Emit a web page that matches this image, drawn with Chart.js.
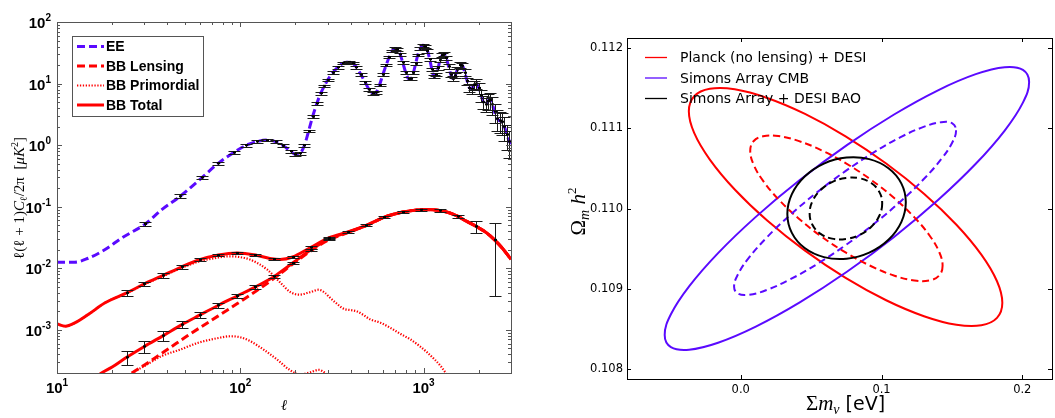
<!DOCTYPE html>
<html lang="en">
<head>
<meta charset="UTF-8" />
<title>CMB polarization spectra and neutrino mass constraints</title>
<script src="https://cdn.jsdelivr.net/npm/chart.js@4.4.1/dist/chart.umd.min.js"></script>
<style>
  html, body { margin: 0; padding: 0; background: #fff; }
  body { width: 1055px; height: 418px; position: relative; overflow: hidden; }
  #leftBox { position: absolute; left: 0; top: 0; width: 530px; height: 418px; }
  #rightBox { position: absolute; left: 530px; top: 0; width: 525px; height: 418px; }
  canvas { display: block; }
</style>
</head>
<body>
<div id="leftBox"><canvas id="spectra"></canvas></div>
<div id="rightBox"><canvas id="contours"></canvas></div>

<script>
// ---------- left panel : l(l+1)C_l/2pi vs multipole ----------
const eeEll = [10, 12.5, 14.8, 18.3, 22.5, 30.3, 37.3, 47, 62, 76, 92, 108, 124, 140, 156, 172, 188, 200, 212, 224,
  236, 248, 262, 275, 288, 300, 320, 340, 365, 390, 410, 430, 455, 480, 505, 530, 550, 575, 600, 625, 650, 675, 700,
  720, 745, 770, 800, 830, 855, 880, 905, 930, 960, 990, 1020, 1050, 1080, 1110, 1140, 1170, 1200, 1230, 1265, 1300,
  1330, 1370, 1410, 1450, 1490, 1530, 1580, 1630, 1680, 1730, 1780, 1830, 1880, 1940, 2000, 2060, 2120, 2180, 2240,
  2300, 2370, 2440, 2520, 2600, 2680, 2760, 2850, 2940, 3000];
const eeVal = [0.0126, 0.0126, 0.0146, 0.0202, 0.031, 0.0526, 0.0897, 0.148, 0.30, 0.51, 0.76, 1.0, 1.15, 1.21, 1.14,
  0.98, 0.80, 0.71, 0.74, 1.0, 1.7, 2.9, 4.8, 7.0, 9.2, 11.5, 15, 18.5, 21.5, 22.5, 21.5, 18.5, 14, 10.5, 8.0, 7.0,
  7.2, 9.5, 14, 20, 27, 34, 37, 36, 30, 22, 15, 12, 12, 15, 21, 29, 37, 42, 40, 34, 25, 17, 13, 14, 18, 24, 29, 30,
  26, 19, 14, 12, 13.5, 17, 20, 19.5, 15, 11, 8.5, 8.2, 9.5, 10, 8.5, 6.5, 5, 4.6, 5.2, 5.4, 4.6, 3.5, 2.7, 2.5, 2.4,
  2.0, 1.5, 1.15, 1.05];
// percent error of the EE band powers (null = no band power plotted)
const eeErrPct = [null, null, null, null, null, 8, null, 7, 6, 6, 6, 5, 5, 5, 5, 5, 5, 5, 5, 5, 5, 5, 5, 5, 5, 5, 5,
  5, 5, 5, 5, 5, 5, 5, 5, 5, 5, 5, 5, 5, 5, 5, 5, 5, 5, 5, 5, 5, 5, 5, 5, 5, 5, 5, 6, 6, 6, 6, 6, 6, 7, 7, 7, 7, 8,
  8, 9, 9, 10, 10, 11, 12, 13, 14, 15, 16, 17, 18, 20, 22, 24, 26, 28, 30, 32, 34, 36, 38, 40, 42, 44, 46, null];

const bbTotHiEll = [10, 11.1, 12.5, 14.8, 18.3, 24, 30, 38, 48, 60, 76, 96, 121, 145, 165, 193, 243, 306, 386, 486,
  612, 771, 920, 1026, 1223, 1380, 1540, 1700, 1940, 2200, 2440, 2700, 3000];
const bbTotHiVal = [1.25e-3, 1.15e-3, 1.3e-3, 1.78e-3, 2.76e-3, 4.0e-3, 5.6e-3, 7.7e-3, 1.06e-2, 1.38e-2, 1.65e-2,
  1.78e-2, 1.65e-2, 1.45e-2, 1.39e-2, 1.53e-2, 2.2e-2, 3.15e-2, 3.9e-2, 5.0e-2, 6.8e-2, 8.2e-2, 8.9e-2, 9.0e-2,
  8.7e-2, 8.0e-2, 7.0e-2, 5.9e-2, 4.8e-2, 3.8e-2, 2.9e-2, 2.1e-2, 1.4e-2];

const bbTotLoEll = [15, 17.5, 20, 24, 30, 38, 48, 60, 76, 96, 121, 153, 193, 243, 306, 386, 486, 612, 771, 920, 1026,
  1223, 1380, 1540, 1700, 1940, 2200, 2440, 2700, 3000];
const bbTotLoVal = [1.4e-4, 2.0e-4, 2.5e-4, 3.6e-4, 5.4e-4, 8.1e-4, 1.22e-3, 1.74e-3, 2.52e-3, 3.55e-3, 5.0e-3,
  7.4e-3, 1.22e-2, 2.0e-2, 3.0e-2, 3.85e-2, 4.95e-2, 6.8e-2, 8.2e-2, 8.9e-2, 9.0e-2, 8.7e-2, 8.0e-2, 7.0e-2, 5.9e-2,
  4.8e-2, 3.8e-2, 2.9e-2, 2.1e-2, 1.4e-2];

const bbLensEll = [25.6, 30, 40, 52, 70, 90, 121, 153, 193, 243, 306, 386, 486, 612, 771, 920, 1026, 1223, 1380, 1540,
  1700, 1940, 2200, 2440, 2700, 3000];
const bbLensVal = [2.0e-4, 2.7e-4, 4.8e-4, 8.2e-4, 1.45e-3, 2.35e-3, 4.2e-3, 6.9e-3, 1.17e-2, 1.93e-2, 2.93e-2,
  3.8e-2, 4.93e-2, 6.78e-2, 8.2e-2, 8.9e-2, 9.0e-2, 8.7e-2, 8.0e-2, 7.0e-2, 5.9e-2, 4.8e-2, 3.8e-2, 2.9e-2, 2.1e-2,
  1.4e-2];

const bbPrimHiEll = [10, 11.1, 12.5, 14.8, 18.3, 24, 30, 38, 48, 60, 76, 88, 100, 113, 140, 166, 188, 210, 240, 268,
  290, 310, 340, 367, 400, 434, 470, 513, 582, 660, 750, 849, 950, 1048, 1150, 1239, 1340, 1450];
const bbPrimHiVal = [1.25e-3, 1.15e-3, 1.3e-3, 1.78e-3, 2.76e-3, 3.95e-3, 5.5e-3, 7.5e-3, 1.02e-2, 1.3e-2, 1.5e-2,
  1.57e-2, 1.52e-2, 1.39e-2, 9.6e-3, 5.8e-3, 4.1e-3, 3.75e-3, 4.1e-3, 4.5e-3, 4.0e-3, 3.3e-3, 2.6e-3, 2.2e-3,
  2.1e-3, 2.0e-3, 1.75e-3, 1.48e-3, 1.31e-3, 1.08e-3, 8.6e-4, 7.0e-4, 5.5e-4, 4.3e-4, 3.3e-4, 2.6e-4, 1.9e-4, 1.4e-4];

const bbPrimLoEll = [25.6, 30, 37.3, 47, 59, 76, 88, 100, 113, 134, 159, 184, 210, 240, 268, 290, 310, 340];
const bbPrimLoVal = [2.0e-4, 2.6e-4, 3.77e-4, 4.8e-4, 6.2e-4, 7.4e-4, 7.9e-4, 7.6e-4, 6.6e-4, 4.8e-4, 3.3e-4,
  2.3e-4, 1.9e-4, 2.05e-4, 2.25e-4, 2.0e-4, 1.65e-4, 1.3e-4];

// BB band powers with 1-sigma errors
const bbBarEll = [24, 30, 38, 48, 60, 76, 96, 121, 153, 193, 243, 306, 386, 486, 612, 771, 971, 1223, 1540, 1940, 2440];
const bbBarHiVal = [4.0e-3, 5.6e-3, 7.7e-3, 1.06e-2, 1.38e-2, 1.65e-2, 1.78e-2, 1.65e-2, 1.42e-2, 1.53e-2, 2.2e-2,
  3.15e-2, 3.9e-2, 5.0e-2, 6.8e-2, 8.2e-2, 8.95e-2, 8.7e-2, 7.0e-2, 4.8e-2, 2.9e-2];
const bbBarHiSig = [4e-4, 5e-4, 6e-4, 7e-4, 8e-4, 9e-4, 9e-4, 8e-4, 7e-4, 8e-4, 1.0e-3, 1.3e-3, 1.5e-3, 1.8e-3,
  2.2e-3, 2.6e-3, 3.0e-3, 3.5e-3, 4.5e-3, 1.05e-2, 2.55e-2];
const bbBarLoVal = [3.6e-4, 5.4e-4, 8.1e-4, 1.22e-3, 1.74e-3, 2.52e-3, 3.55e-3, 5.0e-3, 7.4e-3, 1.22e-2, 2.0e-2, 3.0e-2];
const bbBarLoSig = [9e-5, 1.2e-4, 1.4e-4, 1.6e-4, 2.0e-4, 2.3e-4, 2.5e-4, 3e-4, 4e-4, 6e-4, 9e-4, 1.2e-3];

const leftXTicks = [10, 100, 1000];
const leftYTicks = [1e-3, 1e-2, 1e-1, 1, 10, 100];
const leftLegend = ['EE', 'BB Lensing', 'BB Primordial', 'BB Total'];

// ---------- right panel : Omega_m h^2 vs sum of neutrino masses (contour outlines) ----------
const planck95X = [0.18582, 0.18203, 0.17090, 0.15321, 0.13015, 0.10329, 0.07447, 0.04565, 0.01879, -0.00427,
  -0.02196, -0.03309, -0.03688, -0.03309, -0.02196, -0.00427, 0.01879, 0.04565, 0.07447, 0.10329, 0.13015, 0.15321,
  0.17090, 0.18203];
const planck95Y = [0.108825, 0.108637, 0.108544, 0.108551, 0.108658, 0.108857, 0.109136, 0.109476, 0.109852, 0.110239,
  0.110612, 0.110944, 0.111213, 0.111401, 0.111494, 0.111488, 0.111380, 0.111181, 0.110902, 0.110562, 0.110186,
  0.109799, 0.109426, 0.109094];
const planck68X = [0.14338, 0.14105, 0.13423, 0.12337, 0.10922, 0.09274, 0.07506, 0.05738, 0.04090, 0.02675, 0.01589,
  0.00907, 0.00674, 0.00907, 0.01589, 0.02675, 0.04090, 0.05738, 0.07506, 0.09274, 0.10922, 0.12337, 0.13423, 0.14105];
const planck68Y = [0.109288, 0.109168, 0.109105, 0.109104, 0.109163, 0.109281, 0.109447, 0.109651, 0.109880, 0.110117,
  0.110346, 0.110552, 0.110721, 0.110840, 0.110903, 0.110905, 0.110845, 0.110727, 0.110561, 0.110357, 0.110128,
  0.109891, 0.109662, 0.109456];
const saCmb95X = [0.20485, 0.20043, 0.18751, 0.16694, 0.14013, 0.10891, 0.07541, 0.04192, 0.01070, -0.01611, -0.03668,
  -0.04961, -0.05402, -0.04961, -0.03668, -0.01611, 0.01070, 0.04192, 0.07541, 0.10891, 0.14013, 0.16694, 0.18751,
  0.20043];
const saCmb95Y = [0.111580, 0.111322, 0.110974, 0.110559, 0.110107, 0.109647, 0.109212, 0.108830, 0.108528, 0.108327,
  0.108240, 0.108273, 0.108424, 0.108682, 0.109030, 0.109445, 0.109897, 0.110357, 0.110792, 0.111174, 0.111476,
  0.111677, 0.111764, 0.111731];
const saCmb68X = [0.15296, 0.15027, 0.14239, 0.12986, 0.11353, 0.09452, 0.07411, 0.05371, 0.03469, 0.01836, 0.00584,
  -0.00204, -0.00473, -0.00204, 0.00584, 0.01836, 0.03469, 0.05371, 0.07411, 0.09452, 0.11353, 0.12986, 0.14239,
  0.15027];
const saCmb68Y = [0.110978, 0.110825, 0.110616, 0.110366, 0.110090, 0.109808, 0.109540, 0.109303, 0.109114, 0.108985,
  0.108926, 0.108940, 0.109026, 0.109179, 0.109388, 0.109638, 0.109914, 0.110196, 0.110464, 0.110701, 0.110891,
  0.111019, 0.111078, 0.111064];
const saBao95X = [0.11726, 0.11406, 0.10493, 0.09128, 0.07518, 0.05907, 0.04542, 0.03630, 0.03310, 0.03630, 0.04542,
  0.05907, 0.07518, 0.09128, 0.10493, 0.11406];
const saBao95Y = [0.110079, 0.109832, 0.109611, 0.109451, 0.109375, 0.109395, 0.109508, 0.109697, 0.109933, 0.110180,
  0.110401, 0.110562, 0.110637, 0.110617, 0.110504, 0.110315];
const saBao68X = [0.10047, 0.09851, 0.09293, 0.08457, 0.07470, 0.06484, 0.05648, 0.05090, 0.04894, 0.05090, 0.05648,
  0.06484, 0.07470, 0.08457, 0.09293, 0.09851];
const saBao68Y = [0.110064, 0.109914, 0.109777, 0.109674, 0.109621, 0.109626, 0.109688, 0.109799, 0.109940, 0.110090,
  0.110228, 0.110331, 0.110383, 0.110378, 0.110316, 0.110206];

const rightXTicks = [0.0, 0.1, 0.2];
const rightYTicks = [0.108, 0.109, 0.110, 0.111, 0.112];
const rightLegend = ['Planck (no lensing) + DESI', 'Simons Array CMB', 'Simons Array + DESI BAO'];

// ---------- helpers ----------
const RED = '#ff0000';
const VIOLET = '#5a0aff';
const pts = (xs, ys) => xs.map((x, i) => ({ x, y: ys[i] }));

// closed contour: pad with wrap-around points so the spline is smooth at the seam
function loop(xs, ys) {
  const p = pts(xs, ys);
  return [p[p.length - 1], ...p, p[0], p[1]];
}
function loopSegment(n) {
  const last = n + 1; // index of the repeated first point
  return { borderColor: c => (c.p0DataIndex === 0 || c.p0DataIndex === last) ? 'rgba(0,0,0,0)' : undefined };
}

function logMinorTicks(min, max) {
  const out = [];
  for (let e = Math.floor(Math.log10(min)); e <= Math.ceil(Math.log10(max)); e++) {
    for (let m = 1; m <= 9; m++) {
      const v = m * Math.pow(10, e);
      if (v >= min * 0.999 && v <= max * 1.001) out.push({ v, major: m === 1 });
    }
  }
  return out;
}

function drawRuns(ctx, runs, x, y, align) {
  let total = 0;
  for (const r of runs) { ctx.font = r.font; total += ctx.measureText(r.t).width; }
  let cx = align === 'right' ? x - total : align === 'left' ? x : x - total / 2;
  for (const r of runs) {
    ctx.font = r.font;
    ctx.fillText(r.t, cx, y + (r.dy || 0));
    cx += ctx.measureText(r.t).width;
  }
}

function drawErrorBars(ctx, xs, ys, ells, vals, sigs) {
  ctx.strokeStyle = '#1a1a1a';
  ctx.lineWidth = 1;
  ctx.fillStyle = '#000';
  for (let i = 0; i < vals.length; i++) {
    const s = sigs[i];
    if (s == null) continue;
    const px = Math.round(xs.getPixelForValue(ells[i])) + 0.5;
    const yc = ys.getPixelForValue(vals[i]);
    const yt = Math.round(ys.getPixelForValue(vals[i] + s)) + 0.5;
    const yb = Math.round(ys.getPixelForValue(Math.max(vals[i] - s, 1e-9))) + 0.5;
    ctx.beginPath();
    ctx.moveTo(px, yt); ctx.lineTo(px, yb);
    ctx.moveTo(px - 6, yt); ctx.lineTo(px + 6, yt);
    ctx.moveTo(px - 6, yb); ctx.lineTo(px + 6, yb);
    ctx.stroke();
    ctx.fillRect(px - 1.5, yc - 1, 3, 2);
  }
}

// ---------- left chart ----------
const leftStyles = {
  ee: { borderColor: VIOLET, borderWidth: 3, borderDash: [8, 4] },
  lens: { borderColor: RED, borderWidth: 3, borderDash: [8, 4] },
  prim: { borderColor: RED, borderWidth: 2.2, borderDash: [1.3, 1.6] },
  tot: { borderColor: RED, borderWidth: 3, borderDash: [] }
};

const spectraDecor = {
  id: 'spectraDecor',
  afterDatasetsDraw(chart) {
    const { ctx, chartArea: a, scales: { x, y } } = chart;
    ctx.save();
    ctx.beginPath();
    ctx.rect(a.left, a.top, a.right - a.left, a.bottom - a.top);
    ctx.clip();
    drawErrorBars(ctx, x, y, eeEll, eeVal, eeErrPct.map((p, i) => p == null ? null : eeVal[i] * p / 100));
    drawErrorBars(ctx, x, y, bbBarEll, bbBarHiVal, bbBarHiSig);
    drawErrorBars(ctx, x, y, bbBarEll.slice(0, bbBarLoVal.length), bbBarLoVal, bbBarLoSig);
    ctx.restore();

    // box and inward ticks (matlab style)
    ctx.save();
    ctx.strokeStyle = '#555';
    ctx.lineWidth = 1;
    ctx.strokeRect(Math.round(a.left) + 0.5, Math.round(a.top) + 0.5, Math.round(a.right - a.left), Math.round(a.bottom - a.top));
    ctx.beginPath();
    for (const t of logMinorTicks(x.min, x.max)) {
      const px = Math.round(x.getPixelForValue(t.v)) + 0.5;
      const len = t.major ? 5 : 3;
      ctx.moveTo(px, a.bottom); ctx.lineTo(px, a.bottom - len);
      ctx.moveTo(px, a.top); ctx.lineTo(px, a.top + len);
    }
    for (const t of logMinorTicks(y.min, y.max)) {
      const py = Math.round(y.getPixelForValue(t.v)) + 0.5;
      const len = t.major ? 5 : 3;
      ctx.moveTo(a.left, py); ctx.lineTo(a.left + len, py);
      ctx.moveTo(a.right, py); ctx.lineTo(a.right - len, py);
    }
    ctx.stroke();

    // tick labels 10^n
    ctx.fillStyle = '#000';
    ctx.textBaseline = 'alphabetic';
    const big = 'bold 15px "Liberation Sans", Arial, sans-serif';
    const sup = 'bold 10px "Liberation Sans", Arial, sans-serif';
    for (const v of leftYTicks) {
      const py = y.getPixelForValue(v);
      const ex = String(Math.round(Math.log10(v)));
      drawRuns(ctx, [{ t: '10', font: big }, { t: ex, font: sup, dy: -7 }], 51, py + 6, 'right');
    }
    for (const v of leftXTicks) {
      const px = x.getPixelForValue(v);
      const ex = String(Math.round(Math.log10(v)));
      drawRuns(ctx, [{ t: '10', font: big }, { t: ex, font: sup, dy: -7 }], px, 393, 'center');
    }

    // axis titles
    const serif = '"Liberation Serif", "DejaVu Serif", serif';
    drawRuns(ctx, [{ t: 'ℓ', font: 'italic 15px ' + serif }], (a.left + a.right) / 2, 410, 'center');
    ctx.save();
    ctx.translate(24, 198);
    ctx.rotate(-Math.PI / 2);
    drawRuns(ctx, [
      { t: 'ℓ(ℓ + 1)', font: '15px ' + serif },
      { t: 'C', font: 'italic 15px ' + serif },
      { t: 'ℓ', font: '10px ' + serif, dy: 3 },
      { t: '/2π  [', font: '15px ' + serif },
      { t: 'μK', font: 'italic 15px ' + serif },
      { t: '2', font: '10px ' + serif, dy: -6 },
      { t: ']', font: '15px ' + serif }
    ], 0, 0, 'center');
    ctx.restore();

    // legend box
    ctx.fillStyle = '#fff';
    ctx.fillRect(72, 36, 131, 80);
    ctx.strokeStyle = '#555';
    ctx.lineWidth = 1;
    ctx.strokeRect(72.5, 36.5, 131, 80);
    const rows = [46.5, 66, 85.5, 105];
    const legendStyles = [leftStyles.ee, leftStyles.lens, leftStyles.prim, leftStyles.tot];
    leftLegend.forEach((label, i) => {
      const st = legendStyles[i];
      ctx.strokeStyle = st.borderColor;
      ctx.lineWidth = st.borderWidth;
      ctx.setLineDash(st.borderDash);
      ctx.beginPath();
      ctx.moveTo(77, rows[i]); ctx.lineTo(104, rows[i]);
      ctx.stroke();
      ctx.setLineDash([]);
      ctx.fillStyle = '#000';
      ctx.font = 'bold 14px "Liberation Sans", Arial, sans-serif';
      ctx.textBaseline = 'middle';
      ctx.fillText(label, 106, rows[i] + 1);
    });
    ctx.restore();
  }
};

function spectraSet(label, xs, ys, style) {
  return Object.assign({ label, data: pts(xs, ys), showLine: true, pointRadius: 0, clip: 0,
    cubicInterpolationMode: 'monotone', fill: false }, style);
}

new Chart(document.getElementById('spectra'), {
  type: 'scatter',
  data: {
    datasets: [
      spectraSet('BB Total', bbTotHiEll, bbTotHiVal, leftStyles.tot),
      spectraSet('BB Total (low r)', bbTotLoEll, bbTotLoVal, leftStyles.tot),
      spectraSet('BB Lensing', bbLensEll, bbLensVal, leftStyles.lens),
      spectraSet('BB Primordial', bbPrimHiEll, bbPrimHiVal, leftStyles.prim),
      spectraSet('BB Primordial (low r)', bbPrimLoEll, bbPrimLoVal, leftStyles.prim),
      spectraSet('EE', eeEll, eeVal, leftStyles.ee)
    ]
  },
  options: {
    responsive: true,
    maintainAspectRatio: false,
    animation: false,
    events: [],
    layout: { autoPadding: false, padding: { top: 22, right: 19, left: 0, bottom: 0 } },
    plugins: { legend: { display: false }, tooltip: { enabled: false } },
    scales: {
      x: {
        type: 'logarithmic', min: 10, max: 3000,
        grid: { display: false, drawTicks: false }, border: { display: false },
        ticks: { display: false },
        afterBuildTicks: s => { s.ticks = leftXTicks.map(v => ({ value: v })); },
        afterFit: s => { s.height = 45; }
      },
      y: {
        type: 'logarithmic', min: 2e-4, max: 100,
        grid: { display: false, drawTicks: false }, border: { display: false },
        ticks: { display: false },
        afterBuildTicks: s => { s.ticks = leftYTicks.map(v => ({ value: v })); },
        afterFit: s => { s.width = 57; }
      }
    }
  },
  plugins: [spectraDecor]
});

// ---------- right chart ----------
const contourDecor = {
  id: 'contourDecor',
  afterDatasetsDraw(chart) {
    const { ctx, chartArea: a, scales: { x, y } } = chart;
    ctx.save();
    ctx.strokeStyle = '#000';
    ctx.lineWidth = 1;
    ctx.strokeRect(Math.round(a.left) + 0.5, Math.round(a.top) + 0.5, Math.round(a.right - a.left), Math.round(a.bottom - a.top));
    ctx.beginPath();
    for (const v of rightXTicks) {
      const px = Math.round(x.getPixelForValue(v)) + 0.5;
      ctx.moveTo(px, a.bottom); ctx.lineTo(px, a.bottom - 4);
      ctx.moveTo(px, a.top); ctx.lineTo(px, a.top + 4);
    }
    for (const v of rightYTicks) {
      const py = Math.round(y.getPixelForValue(v)) + 0.5;
      ctx.moveTo(a.left, py); ctx.lineTo(a.left + 4, py);
      ctx.moveTo(a.right, py); ctx.lineTo(a.right - 4, py);
    }
    ctx.stroke();

    // legend (no frame)
    const colors = [RED, VIOLET, '#000'];
    const rows = [57.5, 78, 98.5];
    ctx.font = '14px "DejaVu Sans", sans-serif';
    ctx.textBaseline = 'middle';
    rightLegend.forEach((label, i) => {
      ctx.strokeStyle = colors[i];
      ctx.lineWidth = 1.3;
      ctx.beginPath();
      ctx.moveTo(115, rows[i]); ctx.lineTo(137, rows[i]);
      ctx.stroke();
      ctx.fillStyle = '#000';
      ctx.fillText(label, 150, rows[i] + 1);
    });

    // axis titles
    ctx.textBaseline = 'alphabetic';
    const serif = '"Liberation Serif", "DejaVu Serif", serif';
    drawRuns(ctx, [
      { t: 'Σ', font: '21px ' + serif },
      { t: 'm', font: 'italic 21px ' + serif },
      { t: 'ν', font: 'italic 14px ' + serif, dy: 4 },
      { t: ' [eV]', font: '19px "DejaVu Sans", sans-serif' }
    ], (a.left + a.right) / 2 + 6, 410, 'center');
    ctx.save();
    ctx.translate(55, (a.top + a.bottom) / 2 + 3);
    ctx.rotate(-Math.PI / 2);
    drawRuns(ctx, [
      { t: 'Ω', font: '21px ' + serif },
      { t: 'm', font: 'italic 14px ' + serif, dy: 4 },
      { t: ' h', font: 'italic 21px ' + serif },
      { t: '2', font: '13px ' + serif, dy: -9 }
    ], 0, 0, 'center');
    ctx.restore();
    ctx.restore();
  }
};

function contourSet(label, xs, ys, color, dashed) {
  return {
    label, data: loop(xs, ys), showLine: true, pointRadius: 0, tension: 0.4, fill: false,
    borderColor: color, borderWidth: 2, borderDash: dashed ? [7, 4] : [],
    segment: loopSegment(xs.length)
  };
}

new Chart(document.getElementById('contours'), {
  type: 'scatter',
  data: {
    datasets: [
      contourSet('Simons Array + DESI BAO', saBao95X, saBao95Y, '#000', false),
      contourSet('Simons Array + DESI BAO 68%', saBao68X, saBao68Y, '#000', true),
      contourSet('Simons Array CMB 68%', saCmb68X, saCmb68Y, VIOLET, true),
      contourSet('Planck (no lensing) + DESI 68%', planck68X, planck68Y, RED, true),
      contourSet('Simons Array CMB', saCmb95X, saCmb95Y, VIOLET, false),
      contourSet('Planck (no lensing) + DESI', planck95X, planck95Y, RED, false)
    ]
  },
  options: {
    responsive: true,
    maintainAspectRatio: false,
    animation: false,
    events: [],
    layout: { autoPadding: false, padding: { top: 38, right: 3, left: 0, bottom: 0 } },
    plugins: { legend: { display: false }, tooltip: { enabled: false } },
    scales: {
      x: {
        type: 'linear', min: -0.0808, max: 0.2211,
        grid: { display: false, drawTicks: false }, border: { display: false },
        ticks: { color: '#000', font: { family: 'DejaVu Sans', size: 11.5 }, padding: 4,
          maxRotation: 0, autoSkip: false, callback: v => v.toFixed(1) },
        afterBuildTicks: s => { s.ticks = rightXTicks.map(v => ({ value: v })); },
        afterFit: s => { s.height = 39; }
      },
      y: {
        type: 'linear', min: 0.107875, max: 0.112128,
        grid: { display: false, drawTicks: false }, border: { display: false },
        ticks: { color: '#000', font: { family: 'DejaVu Sans', size: 11.5 }, padding: 4,
          autoSkip: false, callback: v => v.toFixed(3) },
        afterBuildTicks: s => { s.ticks = rightYTicks.map(v => ({ value: v })); },
        afterFit: s => { s.width = 97; }
      }
    }
  },
  plugins: [contourDecor]
});
</script>
</body>
</html>
